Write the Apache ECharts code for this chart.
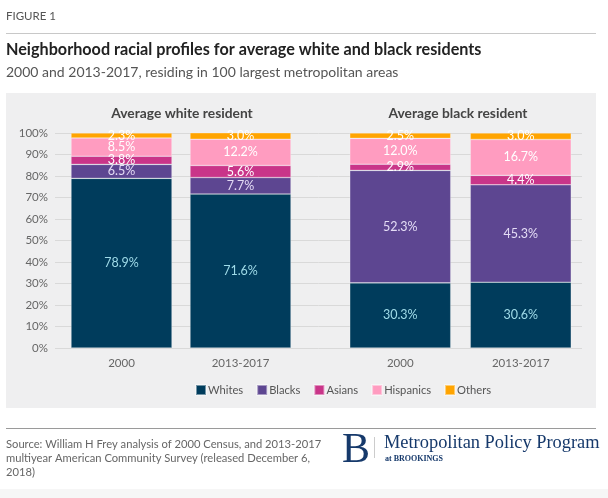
<!DOCTYPE html>
<html><head><meta charset="utf-8">
<script src="https://cdn.jsdelivr.net/npm/echarts@6/dist/echarts.min.js"></script>
<style>html,body{margin:0;padding:0;background:#fff}#c{width:608px;height:498px}</style>
</head><body><div id="c"></div>
<script>
const groupTitles = ['Average white resident', 'Average black resident'];
const periods = ['2000', '2013-2017'];
const seriesNames = ['Whites', 'Blacks', 'Asians', 'Hispanics', 'Others'];
// order: white-2000, white-2013-2017, black-2000, black-2013-2017
const whites = [78.9, 71.6, 30.3, 30.6];
const blacks = [6.5, 7.7, 52.3, 45.3];
const asians = [3.8, 5.6, 2.9, 4.4];
const hispanics = [8.5, 12.2, 12.0, 16.7];
const others = [2.3, 3.0, 2.5, 3.0];
const yTicks = [0, 10, 20, 30, 40, 50, 60, 70, 80, 90, 100];

const values = [whites, blacks, asians, hispanics, others];
const colors = ['#003c5c', '#5d4691', '#c93589', '#ff9cc0', '#ffa400'];
const labelColors = ['#9fdbe8', '#e4dcf5', '#ffffff', '#ffffff', '#ffffff'];
const FONT = 'Lato, "Open Sans", sans-serif';
const SERIF = '"Liberation Serif", "DejaVu Serif", serif';

const chart = echarts.init(document.getElementById('c'), null, {renderer: 'canvas'});

const grids = [
  {left: 55, right: 26, top: 133, bottom: 150},
  {left: 62, width: 238, top: 133, bottom: 150},
  {left: 340, width: 241, top: 133, bottom: 150}
];
const xAxes = [
  {gridIndex: 0, type: 'category', data: ['a'], show: false},
  {gridIndex: 1, type: 'category', data: periods},
  {gridIndex: 2, type: 'category', data: periods}
].map((a, i) => i === 0 ? a : Object.assign(a, {
  axisLine: {show: false}, axisTick: {show: false},
  axisLabel: {color: '#666', fontSize: 11.5, fontFamily: FONT, margin: 9}
}));
const yAxes = [
  {gridIndex: 0, type: 'value', min: yTicks[0], max: yTicks[yTicks.length - 1], interval: yTicks[1] - yTicks[0],
   axisLabel: {formatter: v => v + '%', color: '#666', fontSize: 11.5, fontFamily: FONT, margin: 7},
   splitLine: {lineStyle: {color: '#d9d9d9', width: 1}},
   axisLine: {show: false}, axisTick: {show: false}},
  {gridIndex: 1, type: 'value', min: 0, max: 100, interval: 10, show: false, splitLine: {show: false}},
  {gridIndex: 2, type: 'value', min: 0, max: 100, interval: 10, show: false, splitLine: {show: false}}
];

const series = [];
[1, 2].forEach(g => {
  seriesNames.forEach((name, k) => {
    const arr = values[k];
    const d = g === 1 ? [arr[0], arr[1]] : [arr[2], arr[3]];
    series.push({
      name, type: 'bar', stack: 'g' + g, xAxisIndex: g, yAxisIndex: g,
      barWidth: 101, data: d,
      itemStyle: {color: colors[k], borderColor: 'rgba(255,255,255,0.45)', borderWidth: 0.6},
      label: {show: true, position: 'inside', formatter: p => p.value.toFixed(1) + '%',
        color: labelColors[k], fontSize: 12.5, fontFamily: FONT},
      emphasis: {disabled: true}, animation: false
    });
  });
});

const option = {
  animation: false,
  backgroundColor: '#ffffff',
  graphic: [
    {type: 'rect', shape: {x: 0, y: 489, width: 608, height: 9}, style: {fill: '#f6f6f6'}, z: -10},
    {type: 'rect', shape: {x: 6, y: 93, width: 590, height: 315}, style: {fill: '#efeff0'}, z: -10},
    {type: 'text', left: 6, top: 10, style: {text: 'FIGURE 1', fill: '#555', fontSize: 11.5, fontFamily: FONT}},
    {type: 'line', shape: {x1: 6, y1: 33.5, x2: 596, y2: 33.5}, style: {stroke: '#c8c8c8', lineWidth: 1}},
    {type: 'text', left: 6, top: 42, style: {text: 'Neighborhood racial profiles for average white and black residents', fill: '#222', fontSize: 16.2, fontWeight: 'bold', fontFamily: FONT}},
    {type: 'text', left: 6, top: 65, style: {text: '2000 and 2013-2017, residing in 100 largest metropolitan areas', fill: '#555', fontSize: 14, fontFamily: FONT}},
    {type: 'text', x: 182, y: 114, style: {text: groupTitles[0], fill: '#444', fontSize: 13.8, fontWeight: 'bold', fontFamily: FONT, align: 'center', verticalAlign: 'middle'}},
    {type: 'text', x: 458, y: 114, style: {text: groupTitles[1], fill: '#444', fontSize: 13.8, fontWeight: 'bold', fontFamily: FONT, align: 'center', verticalAlign: 'middle'}},
    {type: 'line', shape: {x1: 6, y1: 428.5, x2: 596, y2: 428.5}, style: {stroke: '#9a9a9a', lineWidth: 1}},
    {type: 'text', left: 6, top: 437, style: {text: 'Source: William H Frey analysis of 2000 Census, and 2013-2017\nmultiyear American Community Survey (released December 6,\n2018)', fill: '#666', fontSize: 11.2, lineHeight: 14, fontFamily: FONT}},
    {type: 'text', x: 356, y: 451, style: {text: 'B', fill: '#16396b', fontSize: 42, fontFamily: SERIF, align: 'center', verticalAlign: 'middle'}},
    {type: 'line', shape: {x1: 374.5, y1: 437, x2: 374.5, y2: 458}, style: {stroke: '#cccccc', lineWidth: 1}},
    {type: 'text', left: 384, top: 434, style: {text: 'Metropolitan Policy Program', fill: '#16396b', fontSize: 18.4, fontFamily: SERIF}},
    {type: 'text', left: 385, top: 455, style: {text: 'at BROOKINGS', fill: '#16396b', fontSize: 8, fontWeight: 'bold', fontFamily: SERIF}}
  ],
  legend: {
    data: seriesNames, left: 190, top: 379, itemWidth: 10, itemHeight: 10, itemGap: 13,
    icon: 'rect', textStyle: {color: '#555', fontSize: 11.2, fontFamily: FONT, padding: [0, 0, 0, -3]},
    selectedMode: false
  },
  grid: grids, xAxis: xAxes, yAxis: yAxes, series
};
chart.setOption(option);
</script></body></html>
